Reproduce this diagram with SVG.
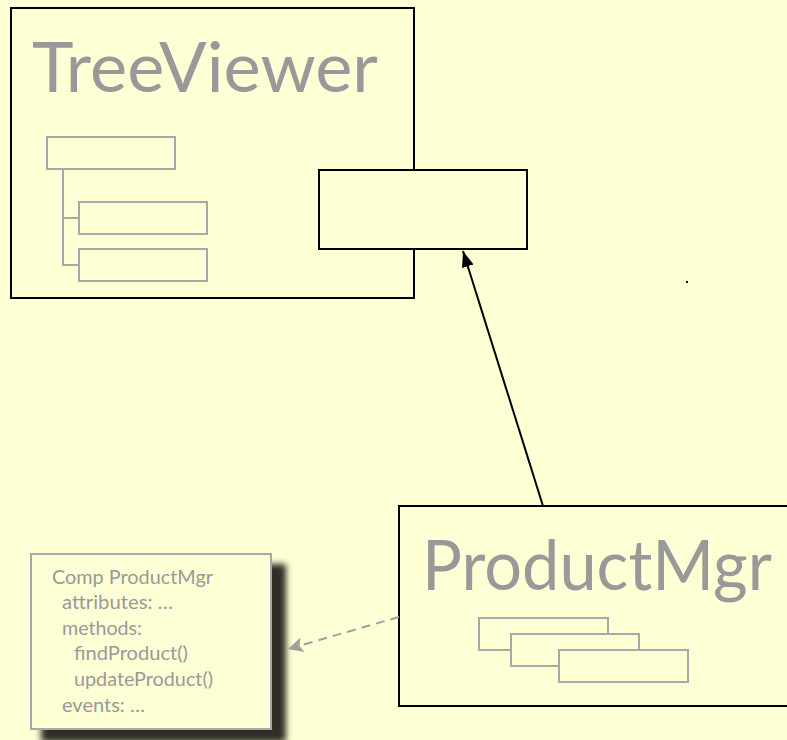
<svg xmlns="http://www.w3.org/2000/svg" width="787" height="740" viewBox="0 0 787 740">
  <defs>
    <style>
      .frame { fill: #FFFFD5; stroke: #000; stroke-width: 2; }
      .title { font-family: Lato, "Liberation Sans", sans-serif; fill: #999; font-size: 70px; }
      .icon { fill: #FFFFD5; stroke: #A8A8A8; stroke-width: 2; }
      .wire { fill: none; stroke: #A8A8A8; stroke-width: 2; }
      .note { fill: #FFFFD5; stroke: #A8A8A8; stroke-width: 2; }
      .notetext { font-family: Lato, "Liberation Sans", sans-serif; fill: #999; font-size: 19px; }
      .link { fill: none; stroke: #000; stroke-width: 2; }
      .dep { fill: none; stroke: #A0A0A0; stroke-width: 2; stroke-dasharray: 9 6; }
    </style>
    <marker id="solidHead" viewBox="0 0 16 12" refX="16" refY="6" markerWidth="16" markerHeight="12" markerUnits="userSpaceOnUse" orient="auto">
      <path d="M0,0 L16,6 L0,12 z" fill="#000" />
    </marker>
    <marker id="grayHead" viewBox="0 0 10 10" refX="10" refY="5" markerWidth="15" markerHeight="15" markerUnits="userSpaceOnUse" orient="auto">
      <path d="M0,0 L10,5 L0,10 L2,5 z" fill="#A0A0A0" />
    </marker>
    <filter id="shadow" x="-20%" y="-20%" width="140%" height="140%">
      <feGaussianBlur stdDeviation="3" />
    </filter>
  </defs>

  <rect width="787" height="740" fill="#FFFFD5" />

  <!-- TreeViewer component with tree icon -->
  <g id="treeviewer">
    <rect class="frame" x="11" y="8" width="403" height="290" />
    <text class="title" x="32" y="92" textLength="346" lengthAdjust="spacingAndGlyphs">TreeViewer</text>
    <rect class="icon" x="47" y="137" width="128" height="32" />
    <path class="wire" d="M63,169 V265 H79 M63,218 H79" />
    <rect class="icon" x="79" y="202" width="128" height="32" />
    <rect class="icon" x="79" y="249" width="128" height="32" />
  </g>

  <!-- provided interface port on the TreeViewer edge -->
  <g id="port">
    <rect class="frame" x="319" y="170" width="208" height="79" />
  </g>

  <!-- ProductMgr component with stacked records -->
  <g id="productmgr">
    <rect class="frame" x="399" y="506" width="400" height="200" />
    <text class="title" x="422" y="590" textLength="350" lengthAdjust="spacingAndGlyphs">ProductMgr</text>
    <rect class="icon" x="479" y="618" width="129" height="32" />
    <rect class="icon" x="511" y="634" width="128" height="32" />
    <rect class="icon" x="559" y="650" width="129" height="32" />
  </g>

  <!-- specification note -->
  <g id="note">
    <rect x="41" y="564" width="245" height="178" fill="#2E2E25" filter="url(#shadow)" />
    <rect class="note" x="31" y="554" width="240" height="175" />
    <text class="notetext" x="52" y="584" textLength="161" lengthAdjust="spacingAndGlyphs">Comp ProductMgr</text>
    <text class="notetext" x="62" y="609" textLength="111" lengthAdjust="spacingAndGlyphs">attributes: …</text>
    <text class="notetext" x="62" y="635" textLength="80" lengthAdjust="spacingAndGlyphs">methods:</text>
    <text class="notetext" x="74" y="660" textLength="114" lengthAdjust="spacingAndGlyphs">findProduct()</text>
    <text class="notetext" x="74" y="686" textLength="139" lengthAdjust="spacingAndGlyphs">updateProduct()</text>
    <text class="notetext" x="62" y="712" textLength="83" lengthAdjust="spacingAndGlyphs">events: …</text>
  </g>

  <!-- stray mark -->
  <rect x="686" y="281" width="2" height="2" fill="#111" />

  <g id="connectors">
    <line class="link" x1="543" y1="506" x2="463" y2="251" marker-end="url(#solidHead)" />
    <line class="dep" x1="399" y1="617" x2="288" y2="649" marker-end="url(#grayHead)" />
  </g>
</svg>
